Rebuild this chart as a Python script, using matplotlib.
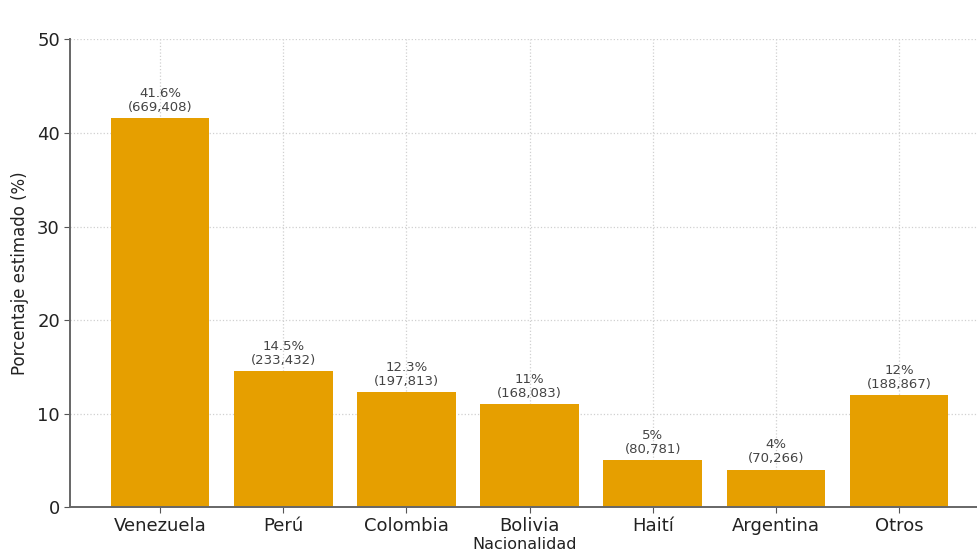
import numpy as np
import matplotlib.pyplot as plt

# data
paises = ['Venezuela', 'Perú', 'Colombia', 'Bolivia', 'Haití', 'Argentina', 'Otros']
porcentajes = [41.6, 14.5, 12.3, 11, 5, 4, 12]
personas = [669408, 233432, 197813, 168083, 80781, 70266, 188867]

fig = plt.figure(figsize=(9.77, 5.56), dpi=100)
# a little higher than the reference so the x label fits inside the image
ax = fig.add_axes([0.072, 0.088, 0.93, 0.841])

x = np.arange(len(paises))
bars = ax.bar(x, porcentajes, width=0.8, color='#E69F00', zorder=2)

for b, p, n in zip(bars, porcentajes, personas):
    txt = '{:g}%\n({:,})'.format(p, n)
    ax.annotate(txt, (b.get_x() + b.get_width() / 2, b.get_height()),
                xytext=(0, 3), textcoords='offset points',
                ha='center', va='bottom', fontsize=9.5, color='#444444',
                linespacing=1.1)

ax.set_xticks(x)
ax.set_xticklabels(paises, fontsize=13, color='#222222')
ax.set_xlim(-0.73, 6.65)
ax.set_ylim(0, 50)
ax.set_yticks([0, 10, 20, 30, 40, 50])
ax.tick_params(axis='y', labelsize=13, colors='#222222')
ax.tick_params(axis='both', color='#555555', length=4)
ax.set_ylabel('Porcentaje estimado (%)', fontsize=12, color='#222222', labelpad=6)
ax.set_xlabel('Nacionalidad', fontsize=11.5, color='#222222', labelpad=1)

ax.grid(True, linestyle=':', color='#d0d0d0', linewidth=0.9, zorder=0)
ax.set_axisbelow(True)
for s in ['top', 'right']:
    ax.spines[s].set_visible(False)
for s in ['left', 'bottom']:
    ax.spines[s].set_color('#666666')
    ax.spines[s].set_linewidth(1.4)

fig.savefig('out.png', dpi=100)
